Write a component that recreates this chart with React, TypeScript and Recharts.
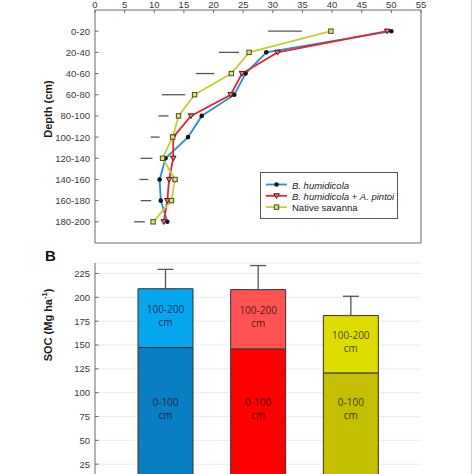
import React from 'react';
import {
  LineChart, Line, XAxis, YAxis, ReferenceLine, ReferenceArea, Legend,
  BarChart, Bar, Cell, ErrorBar, LabelList, CartesianGrid,
} from 'recharts';

// ---------- Panel A data ----------
const depthLabels = ['0-20', '20-40', '40-60', '60-80', '80-100', '100-120', '120-140', '140-160', '160-180', '180-200'];
const depthMids = depthLabels.map((l) => {
  const [a, b] = l.split('-').map(Number);
  return (a + b) / 2;
});
const socTicksTop = [0, 5, 10, 15, 20, 25, 30, 35, 40, 45, 50, 55];

const bhValues = [50.0, 28.9, 25.4, 23.5, 18.0, 15.7, 11.9, 10.9, 11.1, 12.2];
const bhApValues = [49.3, 30.8, 24.8, 22.9, 16.2, 13.2, 13.2, 12.5, 12.2, 11.6];
const nsValues = [39.8, 26.0, 23.0, 16.8, 14.1, 13.1, 11.4, 13.5, 12.9, 9.8];
const lsdLow = [29.2, 20.9, 17.0, 11.3, 10.7, 9.4, 7.7, 7.5, 7.7, 6.6];
const lsdHigh = [34.9, 24.3, 20.1, 15.2, 12.4, 10.9, 9.7, 9.0, 9.5, 8.4];

const seriesNames = ['B. humidicola', 'B. humidicola + A. pintoi', 'Native savanna'];
const seriesKeys = ['bh', 'bhap', 'ns'];
const seriesColors = ['#2B8FD0', '#E3262B', '#C8CC3A'];
const seriesItalic = [true, true, false];

// ---------- Panel B data ----------
const soc0to100 = [147.3, 145.9, 120.7];
const soc100to200 = [61.7, 62.2, 60.2];
const socErr = [20.3, 25.2, 20.2];
const socTicks = [25, 50, 75, 100, 125, 150, 175, 200, 225];
const lowerColors = ['#0A7EC2', '#FF0000', '#C4BF00'];
const upperColors = ['#05A6EE', '#FF5252', '#DEDC00'];
const segLabels = [['0-100', 'cm'], ['100-200', 'cm']];

const lineData = depthLabels.map((label, i) => ({
  label,
  mid: depthMids[i],
  bh: bhValues[i],
  bhap: bhApValues[i],
  ns: nsValues[i],
}));

const barData = seriesNames.map((name, i) => ({
  name,
  lower: soc0to100[i],
  upper: soc100to200[i],
  err: [0, socErr[i]],
}));

const FONT = '"Liberation Sans", Arial, Helvetica, sans-serif';
const TICK_COLOR = '#3a3a3a';
const FRAME = '#6a6a6a';

function LeftTick(props: any) {
  const { x, y, payload, formatter } = props;
  const txt = formatter ? formatter(payload.value) : String(payload.value);
  return (
    <g>
      <text x={x} y={y} textAnchor="end" dominantBaseline="central" fontFamily={FONT} fontSize={9.5} fill={TICK_COLOR}>
        {txt}
      </text>
      <line x1={x + 5} x2={x + 8.5} y1={y} y2={y} stroke={FRAME} strokeWidth={1} />
    </g>
  );
}

function TopTick(props: any) {
  const { x, y, payload } = props;
  return (
    <g>
      <text x={x} y={y} textAnchor="middle" fontFamily={FONT} fontSize={9.5} fill={TICK_COLOR}>
        {payload.value}
      </text>
      <line x1={x} x2={x} y1={y + 2} y2={y + 5} stroke={FRAME} strokeWidth={1} />
    </g>
  );
}

function Marker({ kind, cx, cy }: { kind: number; cx: number; cy: number }) {
  if (kind === 0) return <circle cx={cx} cy={cy} r={2.3} fill="#151515" />;
  if (kind === 1)
    return (
      <path
        d={`M${cx - 2.8},${cy - 2.1} L${cx + 2.8},${cy - 2.1} L${cx},${cy + 2.6} Z`}
        fill="#F07070"
        stroke="#4a1a1a"
        strokeWidth={1}
      />
    );
  return <rect x={cx - 2.2} y={cy - 2.2} width={4.4} height={4.4} fill="#E2E27A" stroke="#4a4a1a" strokeWidth={1} />;
}

function makeDot(kind: number) {
  return (p: any) => {
    if (p.cx == null || p.cy == null) return <g key={p.key} />;
    return (
      <g key={p.key}>
        <Marker kind={kind} cx={p.cx} cy={p.cy} />
      </g>
    );
  };
}

function renderName(name: string, italic: boolean) {
  if (!italic) return <tspan>{name}</tspan>;
  const parts = name.split(' + ');
  const out: any[] = [];
  parts.forEach((p, i) => {
    if (i > 0) out.push(<tspan key={'p' + i}> + </tspan>);
    out.push(
      <tspan key={'s' + i} fontStyle="italic">
        {p}
      </tspan>
    );
  });
  return out;
}

function LegendBox() {
  return (
    <svg width={138} height={47} style={{ display: 'block' }}>
      <rect x={0.5} y={0.5} width={137} height={46} fill="#fff" stroke="#555" strokeWidth={1} />
      {seriesNames.map((n, i) => {
        const cy = 12.5 + i * 11.3;
        return (
          <g key={n}>
            <line x1={6} x2={27} y1={cy} y2={cy} stroke={seriesColors[i]} strokeWidth={1.8} />
            <Marker kind={i} cx={16.5} cy={cy} />
            <text x={32} y={cy} dominantBaseline="central" fontFamily={FONT} fontSize={9.5} fill="#222">
              {renderName(n, seriesItalic[i])}
            </text>
          </g>
        );
      })}
    </svg>
  );
}

function RotTitle({ cx, cy, children }: any) {
  return (
    <text
      x={cx}
      y={cy}
      transform={`rotate(-90 ${cx} ${cy})`}
      textAnchor="middle"
      dominantBaseline="central"
      fontFamily={FONT}
      fontWeight="bold"
      fontSize={11}
      fill="#1a1a1a"
    >
      {children}
    </text>
  );
}

function SegText({ cx, cy, lines }: { cx: number; cy: number; lines: string[] }) {
  return (
    <g>
      <text x={cx} y={cy - 6} textAnchor="middle" dominantBaseline="central" fontFamily='"Open Sans", sans-serif' fontSize={10} fill="#000" fillOpacity={0.72}>
        {lines[0]}
      </text>
      <text x={cx} y={cy + 6.5} textAnchor="middle" dominantBaseline="central" fontFamily='"Open Sans", sans-serif' fontSize={10} fill="#000" fillOpacity={0.72}>
        {lines[1]}
      </text>
    </g>
  );
}

// lower segment: label sits a fixed distance above the bar base
const lowerLabel = (props: any) => {
  const { x, y, width, height } = props;
  const cx = Number(x) + Number(width) / 2;
  const cy = Number(y) + Number(height) - 80;
  return <SegText cx={cx} cy={cy} lines={segLabels[0]} />;
};

// upper segment: label near segment centre
const upperLabel = (props: any) => {
  const { x, y, width, height } = props;
  const cx = Number(x) + Number(width) / 2;
  const cy = Number(y) + Number(height) / 2 - 3;
  return <SegText cx={cx} cy={cy} lines={segLabels[1]} />;
};

const depthFormatter = (v: number) => depthLabels[depthMids.indexOf(v)] ?? '';

export default function App() {
  return (
    <div style={{ position: 'fixed', left: 0, top: 0, width: 474, height: 474, overflow: 'hidden', background: '#fff' }}>
      <div style={{ position: 'absolute', left: 471, top: 0, width: 1, height: 474, background: '#d0d0d0' }} />
      <div style={{ position: 'absolute', left: 0, top: 0 }}>
        <LineChart width={474} height={249} layout="vertical" data={lineData} margin={{ top: 0, right: 53, bottom: 6, left: 0 }}>
          <XAxis
            type="number"
            orientation="top"
            domain={[0, 55]}
            ticks={socTicksTop}
            interval={0}
            height={10}
            axisLine={false}
            tickSize={0}
            tickMargin={2}
            tick={<TopTick />}
          />
          <YAxis
            type="number"
            dataKey="mid"
            domain={[-10, 210]}
            ticks={depthMids}
            interval={0}
            width={95}
            axisLine={false}
            tickSize={0}
            tickMargin={5}
            tick={<LeftTick formatter={depthFormatter} />}
            label={{
              content: (p: any) => {
                const vb = p.viewBox || { x: 0, y: 10 };
                return <RotTitle cx={vb.x + 48} cy={vb.y + 99}>Depth (cm)</RotTitle>;
              },
            }}
          />
          <ReferenceArea x1={0} x2={55} y1={-10} y2={210} fill="none" fillOpacity={0} stroke={FRAME} strokeWidth={1} />
          {depthMids.map((m, i) => (
            <ReferenceLine
              key={m}
              segment={[
                { x: lsdLow[i], y: m },
                { x: lsdHigh[i], y: m },
              ]}
              stroke="#555"
              strokeWidth={1.3}
            />
          ))}
          {seriesKeys.map((k, i) => (
            <Line
              key={k}
              dataKey={k}
              name={seriesNames[i]}
              stroke={seriesColors[i]}
              strokeWidth={1.8}
              dot={makeDot(i)}
              activeDot={false}
              isAnimationActive={false}
            />
          ))}
          <Legend
            layout="vertical"
            align="center"
            verticalAlign="middle"
            wrapperStyle={{ position: 'absolute', left: 260, top: 172, width: 138, height: 47 }}
            content={() => <LegendBox />}
          />
        </LineChart>
      </div>

      <div
        style={{
          position: 'absolute',
          left: 45,
          top: 246,
          fontFamily: FONT,
          fontWeight: 'bold',
          fontSize: 15,
          color: '#111',
          lineHeight: '20px',
        }}
      >
        B
      </div>

      <div style={{ position: 'absolute', left: 0, top: 240 }}>
        <BarChart width={474} height={260} data={barData} margin={{ top: 23, right: 53, bottom: 12, left: 0 }} barSize={55}>
          <CartesianGrid vertical={false} stroke="#ececec" strokeWidth={1} />
          <XAxis dataKey="name" hide padding={{ left: 24, right: 24 }} />
          <YAxis
            domain={[0, 236]}
            ticks={socTicks}
            interval={0}
            width={95}
            axisLine={{ stroke: FRAME }}
            tickSize={0}
            tickMargin={5}
            tick={<LeftTick />}
            label={{
              content: (p: any) => {
                const vb = p.viewBox || { x: 0, y: 23 };
                return (
                  <RotTitle cx={vb.x + 48} cy={vb.y + 62}>
                    SOC (Mg ha
                    <tspan fontSize={7.5} dy={-4}>
                      -1
                    </tspan>
                    <tspan dy={4}>)</tspan>
                  </RotTitle>
                );
              },
            }}
          />
          <YAxis yAxisId="r" orientation="right" domain={[0, 236]} width={0} tick={false} tickLine={false} axisLine={{ stroke: FRAME }} />
          <Bar dataKey="lower" stackId="s" isAnimationActive={false} stroke="#333" strokeWidth={1}>
            {barData.map((d, i) => (
              <Cell key={d.name} fill={lowerColors[i]} />
            ))}
            <LabelList dataKey="lower" content={lowerLabel} />
          </Bar>
          <Bar dataKey="upper" stackId="s" isAnimationActive={false} stroke="#333" strokeWidth={1}>
            {barData.map((d, i) => (
              <Cell key={d.name} fill={upperColors[i]} />
            ))}
            <LabelList dataKey="upper" content={upperLabel} />
            <ErrorBar dataKey="err" direction="y" width={8} stroke="#555" strokeWidth={1.3} />
          </Bar>
        </BarChart>
      </div>
    </div>
  );
}
